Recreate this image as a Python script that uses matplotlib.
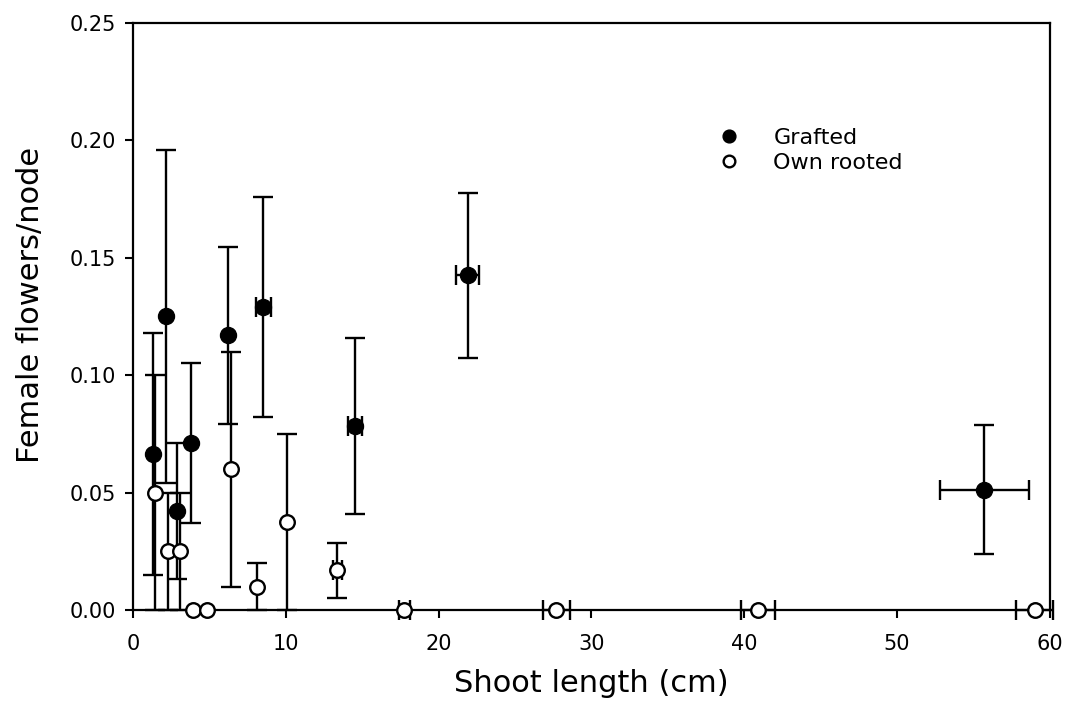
import numpy as np
import matplotlib
matplotlib.use('Agg')
import matplotlib.pyplot as plt
from matplotlib.ticker import FormatStrFormatter

plt.rcParams['font.family'] = ['DejaVu Sans']

nan = np.nan

# Grafted plants: mean shoot length, female flowers per node, standard errors
grafted_x = [1.3, 2.15, 2.9, 3.8, 6.24, 8.53, 14.53, 21.9, 55.7]
grafted_y = [0.0665, 0.125, 0.042, 0.071, 0.117, 0.129, 0.0785, 0.1425, 0.0513]
grafted_yerr = [0.0515, 0.071, 0.029, 0.034, 0.0378, 0.047, 0.0375, 0.035, 0.0276]
grafted_xerr = [nan, nan, nan, nan, nan, 0.5, 0.45, 0.76, 2.9]

# Own rooted plants
own_x = [1.43, 2.31, 3.08, 3.95, 4.85, 6.39, 8.09, 10.06, 13.37, 17.76, 27.7, 40.9, 59.0]
own_y = [0.050, 0.025, 0.025, 0.0, 0.0, 0.060, 0.010, 0.0375, 0.017, 0.0, 0.0, 0.0, 0.0]
own_yerr = [0.050, 0.025, 0.025, nan, nan, 0.050, 0.010, 0.0375, 0.0117, nan, nan, nan, nan]
own_xerr = [nan, nan, nan, nan, nan, nan, nan, nan, 0.3, 0.37, 0.9, 1.1, 1.2]

fig = plt.figure(figsize=(10.67, 7.03), dpi=100)
ax = fig.add_axes([0.1247, 0.1323, 0.8593, 0.8350])

ebkw = dict(fmt='none', ecolor='black', elinewidth=1.7, capsize=7, capthick=1.7,
            clip_on=False, zorder=2)
ax.errorbar(grafted_x, grafted_y, yerr=grafted_yerr, xerr=grafted_xerr, **ebkw)
ax.errorbar(own_x, own_y, yerr=own_yerr, xerr=own_xerr, **ebkw)

ax.plot(grafted_x, grafted_y, 'o', color='black', markersize=11.5,
        linestyle='none', clip_on=False, zorder=4, label='Grafted')
ax.plot(own_x, own_y, 'o', markerfacecolor='white', markeredgecolor='black',
        markeredgewidth=1.7, markersize=10.5, linestyle='none', clip_on=False,
        zorder=4, label='Own rooted')

ax.set_xlim(0, 60)
ax.set_ylim(0, 0.25)
ax.set_xticks(np.arange(0, 61, 10))
ax.set_yticks(np.arange(0, 0.251, 0.05))
ax.yaxis.set_major_formatter(FormatStrFormatter('%.2f'))
ax.tick_params(direction='out', length=5.5, width=1.5, labelsize=15)
ax.tick_params(axis='x', pad=12)
ax.tick_params(axis='y', pad=7)
for s in ax.spines.values():
    s.set_linewidth(1.6)

ax.set_xlabel('Shoot length (cm)', fontsize=22)
ax.set_ylabel('Female flowers/node', fontsize=22)
ax.xaxis.set_label_coords(0.5, -0.1)
ax.yaxis.set_label_coords(-0.096, 0.52)

leg = ax.legend(loc='upper left', bbox_to_anchor=(0.61, 0.855), frameon=False,
                fontsize=16, handletextpad=1.25, labelspacing=0.22,
                markerscale=0.8, handlelength=1.5)

fig.savefig('out.png', dpi=100)
